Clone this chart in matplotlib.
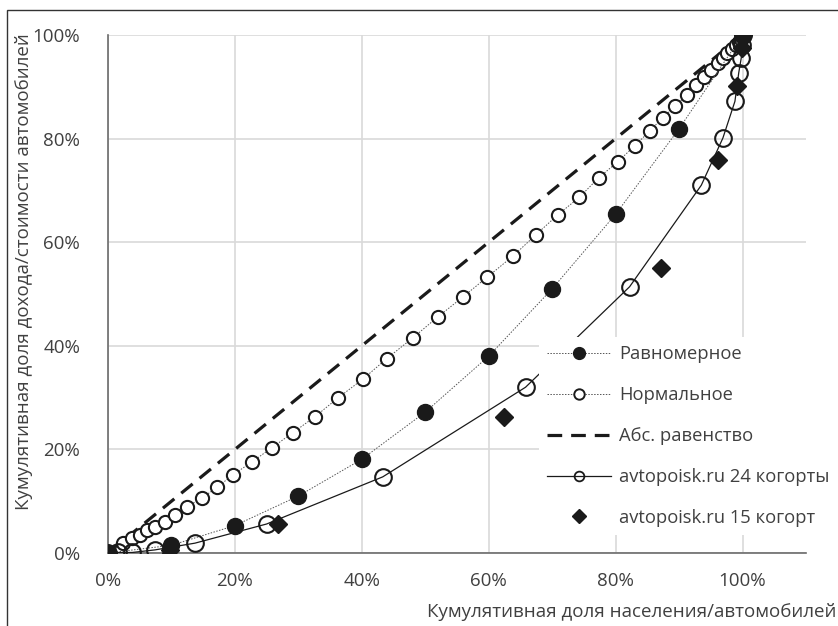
import matplotlib
matplotlib.use("Agg")
import matplotlib.pyplot as plt
from matplotlib.lines import Line2D
from matplotlib.patches import Rectangle
from matplotlib.ticker import FuncFormatter

plt.rcParams['font.family'] = ['Open Sans', 'DejaVu Sans']

# --- data (percent) ---
x_uniform = [0, 10, 20, 30, 40, 50, 60, 70, 80, 90, 100]
y_uniform = [0, 1.5, 5.3, 11.0, 18.1, 27.2, 38.0, 51.0, 65.4, 81.9, 100]

x_normal = [0, 2.4, 3.8, 5.0, 6.1, 7.4, 9.0, 10.6, 12.4, 14.8, 17.2, 19.7,
            22.7, 25.8, 29.1, 32.6, 36.2, 40.2, 43.9, 48.0, 52.0, 55.9, 59.8,
            63.8, 67.4, 70.9, 74.3, 77.3, 80.3, 83.0, 85.4, 87.4, 89.4, 91.2,
            92.6, 93.9, 95.1, 96.1, 96.9, 97.6, 98.3, 98.9, 99.4, 99.7, 100]
y_normal = [0, 1.9, 2.9, 3.5, 4.4, 5.0, 6.0, 7.3, 8.9, 10.6, 12.7, 15.1,
            17.6, 20.3, 23.2, 26.3, 29.9, 33.6, 37.5, 41.5, 45.6, 49.4, 53.3,
            57.3, 61.4, 65.3, 68.7, 72.4, 75.5, 78.6, 81.5, 84.0, 86.3, 88.4,
            90.3, 91.9, 93.2, 94.6, 95.6, 96.5, 97.3, 98.1, 98.6, 99.2, 100]

x_equal = [0, 100]
y_equal = [0, 100]

x_24 = [0, 1.6, 3.8, 7.4, 13.7, 25.0, 43.3, 65.8, 82.2, 93.5, 96.9, 98.8,
        99.4, 99.8, 99.9, 100]
y_24 = [0, 0.1, 0.1, 0.6, 1.9, 5.6, 14.7, 32.0, 51.4, 71.0, 80.1, 87.2,
        92.7, 95.6, 98.0, 100]

x_15 = [0, 9.8, 26.8, 62.4, 87.2, 96.1, 99.2, 99.9, 100]
y_15 = [0, 0.6, 5.6, 26.3, 55.0, 75.9, 90.2, 97.5, 100]

labels = ["Равномерное", "Нормальное", "Абс. равенство",
          "avtopoisk.ru 24 когорты", "avtopoisk.ru 15 когорт"]

xticks = [0, 20, 40, 60, 80, 100]
yticks = [0, 20, 40, 60, 80, 100]

INK = '#1a1a1a'
TXT = '#404040'
FS = 13.5

fig = plt.figure(figsize=(8.38, 6.26), dpi=100)
ax = fig.add_axes([108 / 838, 1 - 553 / 626, 698 / 838, 518 / 626])

ax.plot(x_equal, y_equal, color=INK, lw=2.3, dashes=(4.6, 2.8), zorder=2)
ax.plot(x_uniform, y_uniform, color='#555555', lw=0.7, ls=(0, (1.5, 1.5)),
        marker='o', ms=11.5, mfc=INK, mec=INK, zorder=4)
ax.plot(x_normal, y_normal, color='#555555', lw=0.7, ls=(0, (1.5, 1.5)),
        marker='o', ms=9.5, mfc='white', mec=INK, mew=1.5, zorder=3)
ax.plot(x_24, y_24, color=INK, lw=0.9, marker='o', ms=12, mfc='none',
        mec=INK, mew=1.5, zorder=5)
ax.plot(x_15, y_15, ls='none', marker='D', ms=9, mfc=INK, mec=INK, zorder=6)

ax.set_xlim(0, 110)
ax.set_ylim(0, 100)
ax.set_xticks(xticks)
ax.set_yticks(yticks)
pct = FuncFormatter(lambda v, p: f"{v:.0f}%")
ax.xaxis.set_major_formatter(pct)
ax.yaxis.set_major_formatter(pct)
ax.tick_params(length=0, labelsize=FS, labelcolor=TXT)
ax.tick_params(axis='y', pad=20)
ax.tick_params(axis='x', pad=14)
ax.grid(True, color='#d9d9d9', lw=1.2)
ax.set_axisbelow(True)
for s in ['top', 'right']:
    ax.spines[s].set_visible(False)
for s in ['left', 'bottom']:
    ax.spines[s].set_color('#6b6b6b')
    ax.spines[s].set_linewidth(1.2)
    ax.spines[s].set_zorder(1.5)

handles = [
    Line2D([], [], color='#555555', lw=0.7, ls=(0, (1.5, 1.5)), marker='o',
           ms=8.5, mfc=INK, mec=INK),
    Line2D([], [], color='#555555', lw=0.7, ls=(0, (1.5, 1.5)), marker='o',
           ms=7.5, mfc='white', mec=INK, mew=1.4),
    Line2D([], [], color=INK, lw=2.3, dashes=(4.6, 2.8)),
    Line2D([], [], color=INK, lw=0.9, marker='o', ms=7, mfc='none',
           mec=INK, mew=1.3),
    Line2D([], [], ls='none', marker='D', ms=7.5, mfc=INK, mec=INK),
]
leg = ax.legend(handles, labels, loc='upper left',
                bbox_to_anchor=(0.617, 0.417), frameon=True, fancybox=False,
                facecolor='white', edgecolor='none', framealpha=1,
                fontsize=13.2, handlelength=3.5, handletextpad=0.45,
                labelspacing=1.25, borderpad=0.45, borderaxespad=0)
leg.set_zorder(10)
for t in leg.get_texts():
    t.set_color(TXT)

fig.text(24 / 838, 1 - 272 / 626,
         "Кумулятивная доля дохода/стоимости автомобилей",
         rotation=90, ha='center', va='center', fontsize=FS, color=TXT)
fig.text(427 / 838, 1 - 612 / 626,
         "Кумулятивная доля населения/автомобилей",
         ha='left', va='center', fontsize=FS, color=TXT)

# outer frame of the original picture
fig.patches.append(Rectangle((7 / 838, -0.1), 1.2, 1 - 10 / 626 + 0.1,
                             transform=fig.transFigure, fill=False,
                             edgecolor='#333333', lw=1.0))

fig.savefig("out.png", dpi=100, facecolor='white')
